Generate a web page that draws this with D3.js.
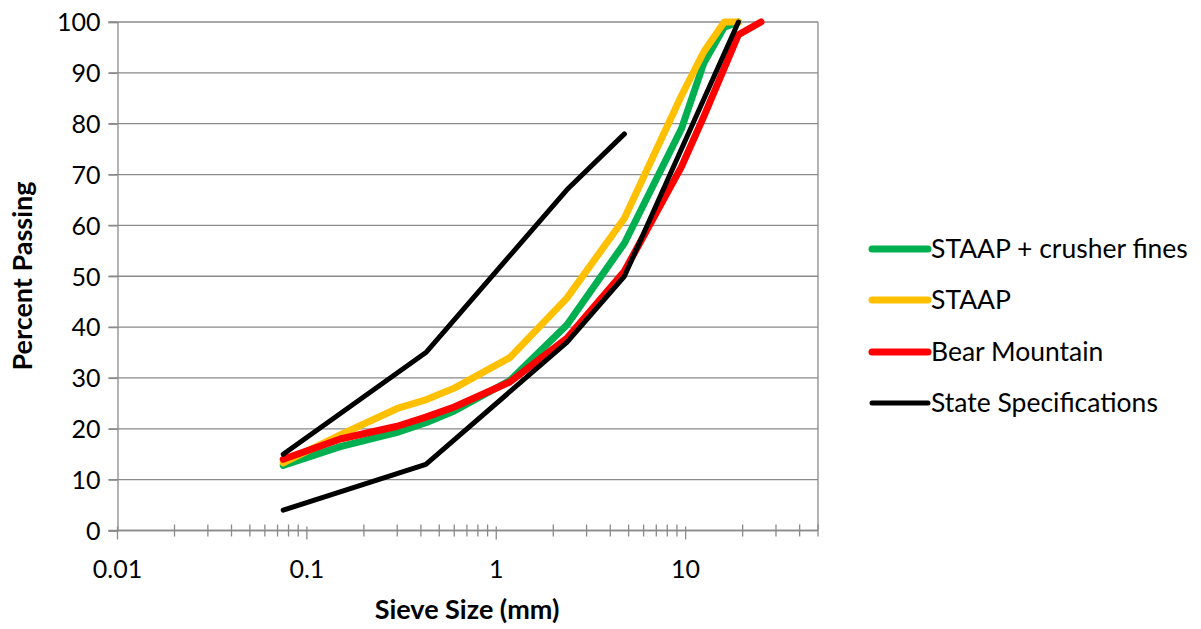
<!DOCTYPE html>
<html>
<head>
<meta charset="utf-8">
<script src="https://cdn.jsdelivr.net/npm/d3@7"></script>
<style>
  html, body { margin: 0; padding: 0; background: #fff; }
  svg { display: block; }
  text { font-family: Lato, "Open Sans", sans-serif; fill: #000; }
</style>
</head>
<body>
<svg id="chart" width="1201" height="629"></svg>
<script>
// ---- data ----
const sieveSizes = [0.075, 0.15, 0.3, 0.425, 0.6, 1.18, 2.36, 4.75, 9.5, 12.5, 16, 19, 25];
const staapCrusher = [12.8, 16.5, 19.3, 21.2, 23.5, 29.5, 40.4, 56.5, 79, 92, 99, 100, null];
const staap = [13.3, 18.8, 24.0, 25.7, 28.0, 34.0, 45.7, 61.4, 85.5, 94.2, 100, 100, null];
const bearMountain = [14.0, 18.0, 20.5, 22.3, 24.3, 29.2, 37.8, 51, 71.5, 81.5, null, 97.5, 100];
const specUpperSizes = [0.075, 0.425, 2.36, 4.75];
const specUpper = [15, 35, 67, 78];
const specLowerSizes = [0.075, 0.425, 2.36, 4.75, 19];
const specLower = [4, 13, 37, 50, 100];
const seriesNames = ["STAAP + crusher fines", "STAAP", "Bear Mountain", "State Specifications"];
const seriesColors = ["#00b050", "#ffc000", "#ff0000", "#000000"];
const xTickLabels = ["0.01", "0.1", "1", "10"];
const yTicks = [0, 10, 20, 30, 40, 50, 60, 70, 80, 90, 100];

// ---- layout ----
const svg = d3.select("#chart");
const L = 117.5, R = 818, T = 22, B = 530.5;
const x = d3.scaleLog().domain([0.01, 50]).range([L, R]);
const y = d3.scaleLinear().domain([0, 100]).range([B, T]);
const gridColor = "#8a8a8a";

// gridlines
svg.append("g").selectAll("line").data(yTicks).join("line")
  .attr("x1", L - 9).attr("x2", R)
  .attr("y1", d => y(d)).attr("y2", d => y(d))
  .attr("stroke", gridColor).attr("stroke-width", 1.3);

// right border
svg.append("line").attr("x1", R).attr("x2", R).attr("y1", T).attr("y2", B)
  .attr("stroke", gridColor).attr("stroke-width", 1.3);

// y axis
const yAxis = d3.axisLeft(y).tickValues(yTicks).tickSize(9).tickPadding(8);
const gy = svg.append("g").attr("transform", `translate(${L},0)`).call(yAxis);
gy.select(".domain").attr("stroke", gridColor).attr("stroke-width", 1.3);
gy.selectAll(".tick line").attr("stroke", gridColor).attr("stroke-width", 1.3);
gy.selectAll(".tick text").style("font-size", "25px").style("font-family", "Lato").attr("fill", "#000").attr("dy", "0.35em");

// x axis: minor ticks (cross)
const minorTicks = [];
[0.01, 0.1, 1, 10].forEach(dec => { for (let k = 2; k <= 9; k++) { const v = k * dec; if (v <= 50) minorTicks.push(v); } });
const gx = svg.append("g");
gx.append("line").attr("x1", L).attr("x2", R).attr("y1", B).attr("y2", B)
  .attr("stroke", gridColor).attr("stroke-width", 1.3);
gx.selectAll("line.minor").data(minorTicks).join("line").attr("class", "minor")
  .attr("x1", d => x(d)).attr("x2", d => x(d)).attr("y1", B - 6).attr("y2", B + 6)
  .attr("stroke", gridColor).attr("stroke-width", 1.3);
const majorTicks = xTickLabels.map(Number);
gx.selectAll("line.major").data(majorTicks).join("line").attr("class", "major")
  .attr("x1", d => x(d)).attr("x2", d => x(d)).attr("y1", B - 4).attr("y2", B + 9)
  .attr("stroke", gridColor).attr("stroke-width", 1.3);
gx.selectAll("text").data(xTickLabels).join("text")
  .attr("x", d => x(+d)).attr("y", 578).attr("text-anchor", "middle")
  .style("font-size", "25px").text(d => d);

// series
const line = d3.line().x(d => x(d[0])).y(d => y(d[1]));
const seriesData = [
  { pts: sieveSizes.map((s, i) => [s, staapCrusher[i]]), color: seriesColors[0], w: 7 },
  { pts: sieveSizes.map((s, i) => [s, staap[i]]), color: seriesColors[1], w: 7 },
  { pts: sieveSizes.map((s, i) => [s, bearMountain[i]]), color: seriesColors[2], w: 7 },
  { pts: specUpperSizes.map((s, i) => [s, specUpper[i]]), color: seriesColors[3], w: 5 },
  { pts: specLowerSizes.map((s, i) => [s, specLower[i]]), color: seriesColors[3], w: 5 }
];
svg.append("g").selectAll("path").data(seriesData).join("path")
  .attr("d", d => line(d.pts.filter(p => p[1] != null)))
  .attr("fill", "none").attr("stroke", d => d.color).attr("stroke-width", d => d.w)
  .attr("stroke-linecap", "round").attr("stroke-linejoin", "round");

// legend
const legY = [249, 300, 352, 403];
const lg = svg.append("g").selectAll("g").data(seriesNames).join("g")
  .attr("transform", (d, i) => `translate(0,${legY[i]})`);
lg.append("line").attr("x1", 872).attr("x2", 928).attr("y1", 0).attr("y2", 0)
  .attr("stroke", (d, i) => seriesColors[i]).attr("stroke-width", (d, i) => i === 3 ? 5 : 7)
  .attr("stroke-linecap", "round");
lg.append("text").attr("x", 931).attr("y", 0).attr("dy", "0.35em")
  .style("font-size", "26.5px").text(d => d);

// axis titles
svg.append("text").attr("x", 467).attr("y", 619).attr("text-anchor", "middle")
  .style("font-size", "27px").style("font-weight", "bold").text("Sieve Size (mm)");
svg.append("text").attr("transform", "translate(32,276) rotate(-90)").attr("text-anchor", "middle")
  .style("font-size", "27px").style("font-weight", "bold").text("Percent Passing");
</script>
</body>
</html>
